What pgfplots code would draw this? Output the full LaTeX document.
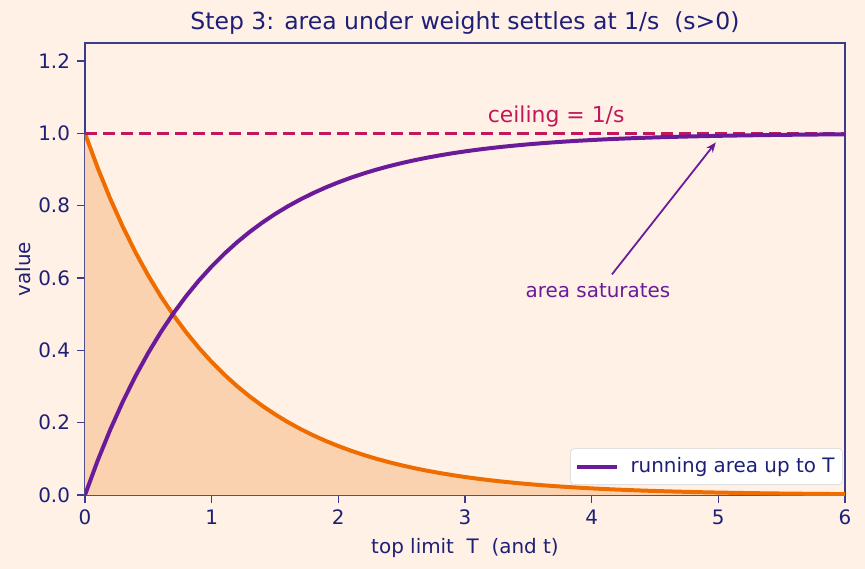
\documentclass[border=0pt]{standalone}
\usepackage{pgfplots}
\pgfplotsset{compat=1.18}
\usepackage{pgfplotstable}
\usepackage{fontspec}
\setmainfont{DejaVu Sans}
\usetikzlibrary{arrows.meta}

\definecolor{bgc}{RGB}{255,241,229}
\definecolor{ink}{RGB}{30,32,120}
\definecolor{frame}{RGB}{60,60,140}
\definecolor{wline}{RGB}{239,108,0}
\definecolor{wfill}{RGB}{251,210,176}
\definecolor{aline}{RGB}{106,27,154}
\definecolor{ceil}{RGB}{194,24,91}

% t, weight e^{-t}, running area 1-e^{-T}
\pgfplotstableread{
t w a
0.0 1.000000 0.000000
0.1 0.904837 0.095163
0.2 0.818731 0.181269
0.3 0.740818 0.259182
0.4 0.670320 0.329680
0.5 0.606531 0.393469
0.6 0.548812 0.451188
0.7 0.496585 0.503415
0.8 0.449329 0.550671
0.9 0.406570 0.593430
1.0 0.367879 0.632121
1.1 0.332871 0.667129
1.2 0.301194 0.698806
1.3 0.272532 0.727468
1.4 0.246597 0.753403
1.5 0.223130 0.776870
1.6 0.201897 0.798103
1.7 0.182684 0.817316
1.8 0.165299 0.834701
1.9 0.149569 0.850431
2.0 0.135335 0.864665
2.1 0.122456 0.877544
2.2 0.110803 0.889197
2.3 0.100259 0.899741
2.4 0.090718 0.909282
2.5 0.082085 0.917915
2.6 0.074274 0.925726
2.7 0.067206 0.932794
2.8 0.060810 0.939190
2.9 0.055023 0.944977
3.0 0.049787 0.950213
3.1 0.045049 0.954951
3.2 0.040762 0.959238
3.3 0.036883 0.963117
3.4 0.033373 0.966627
3.5 0.030197 0.969803
3.6 0.027324 0.972676
3.7 0.024724 0.975276
3.8 0.022371 0.977629
3.9 0.020242 0.979758
4.0 0.018316 0.981684
4.1 0.016573 0.983427
4.2 0.014996 0.985004
4.3 0.013569 0.986431
4.4 0.012277 0.987723
4.5 0.011109 0.988891
4.6 0.010052 0.989948
4.7 0.009095 0.990905
4.8 0.008230 0.991770
4.9 0.007447 0.992553
5.0 0.006738 0.993262
5.1 0.006097 0.993903
5.2 0.005517 0.994483
5.3 0.004992 0.995008
5.4 0.004517 0.995483
5.5 0.004087 0.995913
5.6 0.003698 0.996302
5.7 0.003346 0.996654
5.8 0.003028 0.996972
5.9 0.002739 0.997261
6.0 0.002479 0.997521
}\curves

\begin{document}
\begin{tikzpicture}
\fill[bgc] (-42.5bp,-37bp) rectangle (390bp,247.5bp);
\useasboundingbox (-42.5bp,-37bp) rectangle (390bp,247.5bp);
\begin{axis}[
  at={(0,0)}, anchor=south west,
  scale only axis, width=380bp, height=226bp,
  xmin=0, xmax=6, ymin=0, ymax=1.25,
  xtick={0,1,...,6}, ytick={0,0.2,...,1.2},
  yticklabel style={/pgf/number format/.cd,fixed,fixed zerofill,precision=1},
  /pgf/number format/assume math mode=true,
  ticklabel style={font=\fontsize{10}{12}\selectfont, text=ink},
  tick style={frame, line width=0.6pt},
  major tick length=4bp,
  tick align=outside,
  xtick pos=bottom, ytick pos=left,
  axis line style={frame, line width=0.7pt},
  axis background/.style={fill=bgc},
  title={Step 3: area under weight settles at 1/s\ \ (s>0)},
  title style={font=\fontsize{11.8}{14}\selectfont, text=ink, yshift=-5bp},
  xlabel={top limit\ \ T\ \ (and t)},
  ylabel={value},
  label style={font=\fontsize{10}{12}\selectfont, text=ink},
  ylabel style={yshift=-3bp},
  legend style={at={(1,0)}, anchor=south east, xshift=-1bp, yshift=5bp,
    font=\fontsize{10}{12}\selectfont, text=ink, draw=black!12, fill=white,
    rounded corners=2bp, inner xsep=2bp, inner ysep=2.5bp, legend cell align=left},
  legend image code/.code={\draw[#1] (0bp,0bp) -- (20bp,0bp); \path (24bp,0bp);},
]
\addplot[draw=none, fill=wfill, forget plot] table[x=t, y=w] {\curves} \closedcycle;
\addplot[wline, line width=2pt, forget plot] table[x=t, y=w] {\curves};
\addplot[ceil, line width=1.4pt, dash pattern=on 6bp off 3bp, forget plot] coordinates {(0,1) (6,1)};
\addplot[aline, line width=2pt] table[x=t, y=a] {\curves};
\addlegendentry{running area up to T}
\node[text=ceil, font=\fontsize{11}{13}\selectfont, anchor=base] at (axis cs:3.72,1.03) {ceiling = 1/s};
\draw[aline, line width=0.9pt, -{Stealth[length=5bp,width=4bp,open]}] (axis cs:4.16,0.61) -- (axis cs:4.98,0.975);
\node[text=aline, font=\fontsize{10}{12}\selectfont] at (axis cs:4.05,0.565) {area saturates};
\end{axis}
\end{tikzpicture}
\end{document}
